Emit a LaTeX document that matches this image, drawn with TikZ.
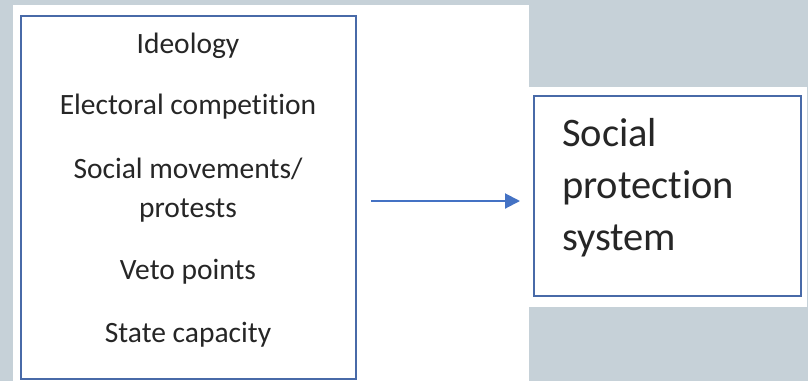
\documentclass[tikz,border=0pt]{standalone}
\usepackage{fontspec}
\setmainfont{Carlito}[Ligatures=NoCommon]
\usetikzlibrary{arrows.meta}
\usetikzlibrary{positioning}
\definecolor{slide}{RGB}{198,209,216}
\definecolor{boxblue}{RGB}{72,106,168}
\definecolor{arrowblue}{RGB}{68,114,196}
\definecolor{ink}{RGB}{38,38,38}

\begin{document}
\begin{tikzpicture}[x=1pt,y=-1pt]
% grey slide with the white panels on it
\fill[slide] (0,0) rectangle (808,381);
\fill[white] (13,5) rectangle (529,381);
\fill[white] (529,87) rectangle (807,307);
\useasboundingbox (0,0) rectangle (808,381);

\begin{scope}[every node/.style={rectangle,draw=boxblue,line width=2pt,inner sep=0pt}]
    \node[minimum width=335pt,minimum height=363pt] (F) at (188.5,197.5) {};
    \node[minimum width=267pt,minimum height=200pt] (S) at (667.5,196) {};
\end{scope}

\begin{scope}[every node/.style={text=ink,inner sep=0pt,font=\fontsize{29.5}{39}\selectfont}]
    \node (I) at (188,46) {Ideology};
    \node (E) at (188,107) {Electoral competition};
    \node[align=center] (M) at (188,190) {Social movements/\\protests};
    \node (V) at (188,272) {Veto points};
    \node (C) at (188,335) {State capacity};
\end{scope}

\node[text=ink,inner sep=0pt,anchor=west,align=left,
      font=\fontsize{40.5}{52}\selectfont] (P) at (562,188)
      {Social\\protection\\system};

\draw[arrowblue,line width=2pt,-{Triangle[length=15pt,width=15pt]},
      shorten <=14pt,shorten >=13pt]
      ([yshift=-3.5pt]F.east) -- ([yshift=-5pt]S.west);
\end{tikzpicture}
\end{document}
